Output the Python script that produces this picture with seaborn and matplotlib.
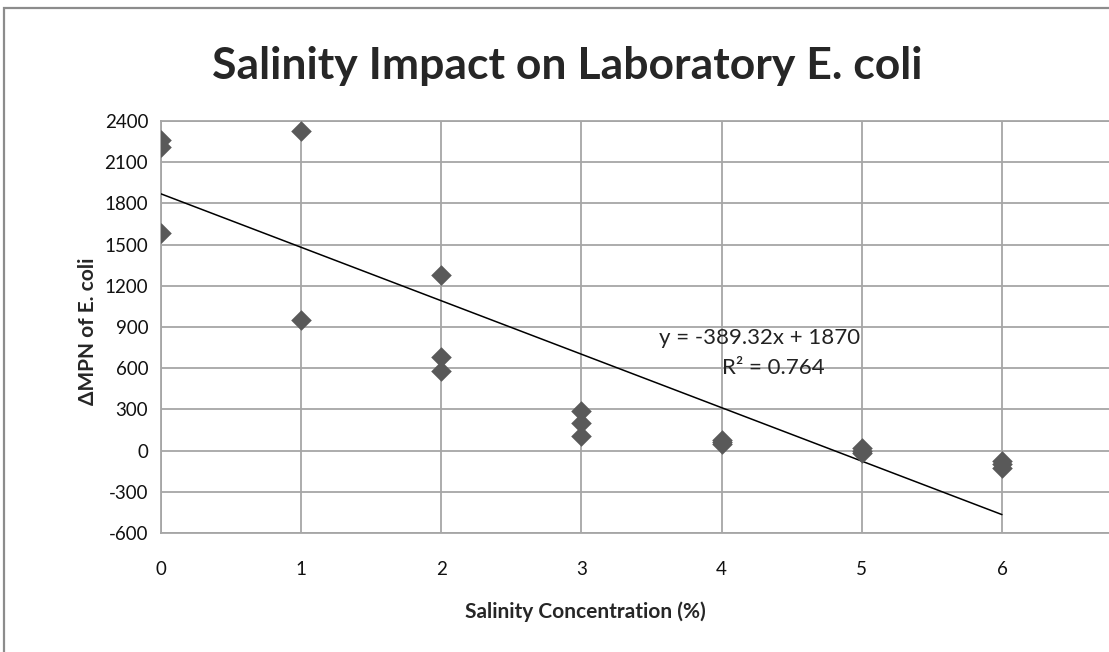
import matplotlib
matplotlib.use("Agg")
import matplotlib.pyplot as plt
import matplotlib.patches as patches
import numpy as np
import pandas as pd
import seaborn as sns

# values
salinity = [0, 0, 0, 1, 1, 2, 2, 2, 3, 3, 3, 4, 4, 4, 5, 5, 5, 6, 6, 6]
delta_mpn = [2263, 2208, 1587, 2330, 950, 1276, 684, 580, 291, 203, 106,
             80, 60, 45, 20, 0, -20, -75, -100, -130]
slope = -389.32
intercept = 1870
r_squared = 0.764
y_ticks = list(range(-600, 2401, 300))
x_ticks = [0, 1, 2, 3, 4, 5, 6]

df = pd.DataFrame({"salinity": salinity, "mpn": delta_mpn})
fit_x = np.array([min(salinity), max(salinity)])
fit = pd.DataFrame({"salinity": fit_x, "mpn": slope * fit_x + intercept})

sns.set_theme(style="white")
plt.rcParams["font.family"] = ["Lato", "DejaVu Sans"]
plt.rcParams["axes.unicode_minus"] = False

grid_col = "#a6a6a6"
fig = plt.figure(figsize=(11.09, 6.52), dpi=100)
ax = fig.add_axes([0.1449, 0.1825, 0.885, 0.632])

sns.lineplot(data=fit, x="salinity", y="mpn", color="black", linewidth=1.1, ax=ax, zorder=3)
sns.scatterplot(data=df, x="salinity", y="mpn", marker="D", s=110, color="#595959",
                linewidth=0, ax=ax, zorder=4)

ax.set_xlim(0, 7)
ax.set_ylim(-600, 2400)
ax.set_xticks(x_ticks)
ax.set_yticks(y_ticks)
ax.grid(True, color=grid_col, linewidth=1.3)
ax.set_axisbelow(True)
for side in ["left", "bottom", "top"]:
    ax.spines[side].set_color(grid_col)
    ax.spines[side].set_linewidth(1.3)
ax.spines["right"].set_visible(False)
ax.tick_params(axis="both", length=0, labelsize=13.5, colors="#111111")
ax.tick_params(axis="x", pad=20)
ax.tick_params(axis="y", pad=9)

ax.set_xlabel("Salinity Concentration (%)", fontsize=15, fontweight="bold", va="center")
ax.xaxis.set_label_coords((585 - 160.7) / 981.4, -0.19)
ax.set_ylabel("ΔMPN of E. coli", fontsize=15, fontweight="bold", va="center")
ax.yaxis.set_label_coords(-0.074, 0.49)

ax.text(4.27, 820, f"y = {slope}x + {intercept}", ha="center", va="center",
        fontsize=16, color="#222222")
ax.text(4.37, 600, f"R² = {r_squared}", ha="center", va="center",
        fontsize=16, color="#222222")

fig.text(567 / 1109, 1 - 66 / 652, "Salinity Impact on Laboratory E. coli",
         ha="center", va="center", fontsize=32, fontweight="bold")

frame = patches.Rectangle((4 / 1109, -0.1), 1.2, 1.1 - 8 / 652, transform=fig.transFigure,
                          fill=False, edgecolor="#8c8c8c", linewidth=1.6)
fig.patches.append(frame)

fig.savefig("out.png", dpi=100)
